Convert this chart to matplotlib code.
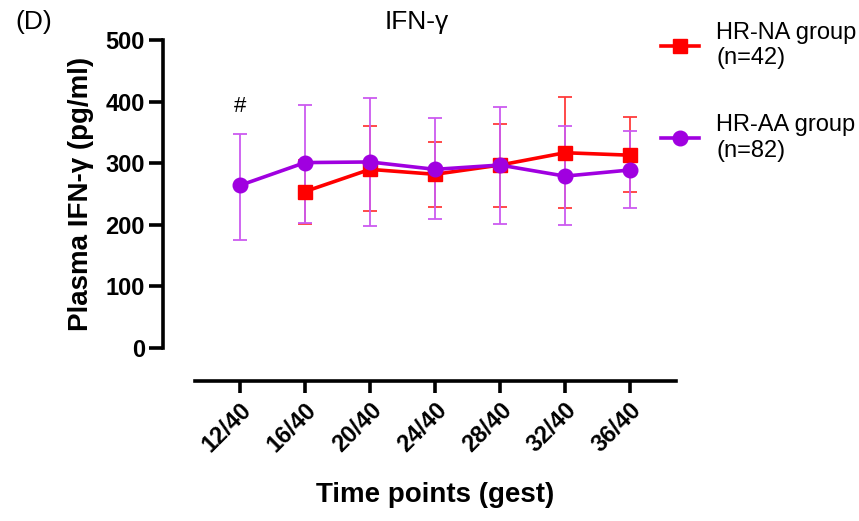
import matplotlib.pyplot as plt
from matplotlib.lines import Line2D
import numpy as np

plt.rcParams['font.family'] = ['Liberation Sans', 'DejaVu Sans']

time_labels = ['12/40', '16/40', '20/40', '24/40', '28/40', '32/40', '36/40']

# HR-NA group (no value at 12/40)
na_x = [1, 2, 3, 4, 5, 6]
na_mean = [254, 290, 282, 297, 317, 313]
na_low = [202, 222, 229, 229, 227, 253]
na_high = [306, 361, 335, 364, 408, 375]

# HR-AA group
aa_x = [0, 1, 2, 3, 4, 5, 6]
aa_mean = [264, 301, 302, 290, 297, 279, 289]
aa_low = [176, 203, 198, 209, 202, 199, 227]
aa_high = [347, 394, 406, 373, 391, 360, 352]

red = '#ff0000'
red_err = '#ff3c3c'
purple = '#a000e0'
purple_err = '#cc5af0'

fig = plt.figure(figsize=(8.59, 5.21), dpi=100)
W, H = 859, 521
left, right, top, bottom = 163, 676, 40, 348
ax = fig.add_axes([left / W, 1 - bottom / H, (right - left) / W, (bottom - top) / H])

x0_px, step_px = 240, 65
ax.set_xlim((left - x0_px) / step_px, (right - x0_px) / step_px)
ax.set_ylim(0, 500)

na_err = [np.array(na_mean) - np.array(na_low), np.array(na_high) - np.array(na_mean)]
aa_err = [np.array(aa_mean) - np.array(aa_low), np.array(aa_high) - np.array(aa_mean)]

ax.errorbar(na_x, na_mean, yerr=na_err, fmt='none', ecolor=red_err, elinewidth=1.3,
            capsize=5, capthick=1.3, zorder=2, clip_on=False)
ax.errorbar(aa_x, aa_mean, yerr=aa_err, fmt='none', ecolor=purple_err, elinewidth=1.3,
            capsize=5, capthick=1.3, zorder=2, clip_on=False)
ax.plot(na_x, na_mean, color=red, lw=2.6, marker='s', ms=9.5, zorder=3, clip_on=False)
ax.plot(aa_x, aa_mean, color=purple, lw=2.6, marker='o', ms=10.5, zorder=4, clip_on=False)

ax.text(0, 392, '#', ha='center', va='center', fontsize=16)

# prism-like axes: detached x axis line
for s in ['top', 'right']:
    ax.spines[s].set_visible(False)
ax.spines['left'].set_linewidth(2.6)
ax.spines['bottom'].set_linewidth(2.6)
ax.spines['bottom'].set_position(('outward', 33 * 72 / 100))
ax.spines['bottom'].set_bounds((195 - x0_px) / step_px, (right - x0_px) / step_px)

ax.set_yticks([0, 100, 200, 300, 400, 500])
ax.set_xticks(range(len(time_labels)))
ax.set_xticklabels(time_labels, rotation=45, ha='right', rotation_mode='anchor')
ax.tick_params(axis='y', width=2.6, length=10, labelsize=17, pad=3)
ax.tick_params(axis='x', width=2.6, length=8.5, labelsize=17, pad=4)
for lab in ax.get_xticklabels() + ax.get_yticklabels():
    lab.set_fontweight('bold')

ax.set_ylabel('Plasma IFN-γ (pg/ml)', fontsize=20, fontweight='bold', labelpad=8)
ax.set_xlabel('Time points (gest)', fontsize=20, fontweight='bold')
# centre the x label under the x axis line
ax.xaxis.label.set_verticalalignment('top')
ax.xaxis.set_label_coords(((195 + right) / 2 - left) / (right - left), -(482 - bottom) / (bottom - top))

fig.text(15 / W, 1 - 22 / H, '(D)', fontsize=19, va='center', ha='left')
fig.text(417 / W, 1 - 22 / H, 'IFN-γ', fontsize=19, va='center', ha='center')

handles = [Line2D([], [], color=red, lw=2.6, marker='s', ms=9.5),
           Line2D([], [], color=purple, lw=2.6, marker='o', ms=10.5)]
fig.legend(handles, ['HR-NA group\n(n=42)', 'HR-AA group\n(n=82)'],
           loc='upper left', bbox_to_anchor=(661 / W, 1 - 22 / H), frameon=False,
           fontsize=17, handlelength=1.6, handletextpad=0.75, labelspacing=1.9,
           borderpad=0, borderaxespad=0)

fig.savefig('out.png', dpi=100)
